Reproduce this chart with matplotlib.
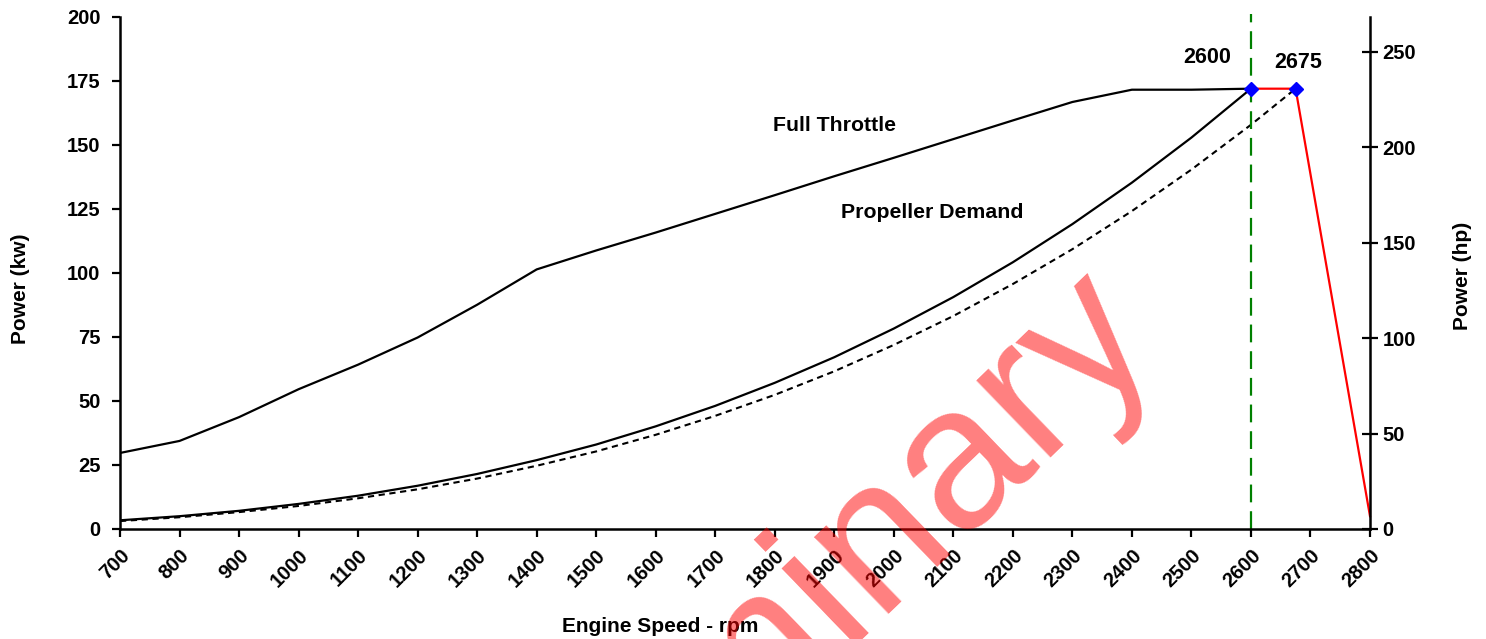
import matplotlib
matplotlib.use("Agg")
import matplotlib.pyplot as plt
import numpy as np

plt.rcParams['font.family'] = ['Liberation Sans', 'DejaVu Sans']
plt.rcParams['font.weight'] = 'bold'

# Data (kW vs rpm)
rpm_full = [700, 800, 900, 1000, 1100, 1200, 1300, 1400, 1500, 1600, 1700, 1800,
            1900, 2000, 2100, 2200, 2300, 2400, 2500, 2600]
kw_full = [29.7, 34.4, 43.7, 54.6, 64.2, 74.8, 87.6, 101.4, 108.8, 115.8, 123.1, 130.4,
           137.8, 145.0, 152.3, 159.6, 166.8, 171.6, 171.6, 172.0]

rpm_prop = [700, 800, 900, 1000, 1100, 1200, 1300, 1400, 1500, 1600, 1700, 1800,
            1900, 2000, 2100, 2200, 2300, 2400, 2500, 2600]
kw_prop = [3.4, 5.0, 7.1, 9.8, 13.0, 16.9, 21.5, 26.9, 33.0, 40.1, 48.1, 57.1,
           67.1, 78.3, 90.6, 104.2, 119.1, 135.3, 152.9, 172.0]

rpm_prop2 = [700, 800, 900, 1000, 1100, 1200, 1300, 1400, 1500, 1600, 1700, 1800,
             1900, 2000, 2100, 2200, 2300, 2400, 2500, 2600, 2675]
kw_prop2 = [3.1, 4.6, 6.6, 9.0, 12.0, 15.5, 19.7, 24.7, 30.3, 36.8, 44.2, 52.4,
            61.6, 71.9, 83.2, 95.7, 109.3, 124.2, 140.4, 157.9, 172.0]

rpm_gov = [2600, 2675, 2800]
kw_gov = [172.0, 172.0, 5.0]

rpm_marks = [2600, 2675]
kw_marks = [172.0, 172.0]
mark_labels = ["2600", "2675"]

rated_rpm = 2600
x_ticks = list(range(700, 2801, 100))
y_ticks_kw = list(range(0, 201, 25))
y_ticks_hp = list(range(0, 251, 50))
KW_TO_HP = 1.341

fig = plt.figure(figsize=(14.86, 6.39), dpi=100)
ax = fig.add_axes([120/1486, 1-529/639, 1250/1486, 512/639])

ax.plot(rpm_full, kw_full, color='black', lw=1.6)
ax.plot(rpm_prop, kw_prop, color='black', lw=1.6)
ax.plot(rpm_prop2, kw_prop2, color='black', lw=1.5, linestyle=(0, (3, 2.2)))
ax.plot(rpm_gov, kw_gov, color='red', lw=1.6, clip_on=False)
ax.axvline(rated_rpm, ymin=0, ymax=1.005, color='green', lw=1.6,
           linestyle=(0, (8, 4)), clip_on=False)
ax.plot(rpm_marks, kw_marks, linestyle='none', marker='D', markersize=7,
        color='blue', markeredgecolor='blue', zorder=5, clip_on=False)

ax.text(2526, 184, mark_labels[0], ha='center', va='center', fontsize=15.5, fontweight='bold')
ax.text(2679, 182.4, mark_labels[1], ha='center', va='center', fontsize=15.5, fontweight='bold')
ax.text(1900, 157.8, "Full Throttle", ha='center', va='center', fontsize=15.3, fontweight='bold')
ax.text(2064, 123.8, "Propeller Demand", ha='center', va='center', fontsize=15.3, fontweight='bold')

ax.set_xlim(700, 2800)
ax.set_ylim(0, 200)
ax.set_xticks(x_ticks)
ax.set_xticklabels([str(v) for v in x_ticks], rotation=45, ha='right',
                   rotation_mode='anchor', fontsize=14.5, fontweight='bold')
ax.set_yticks(y_ticks_kw)
ax.set_yticklabels([str(v) for v in y_ticks_kw], fontsize=14.5, fontweight='bold')
ax.tick_params(axis='both', direction='out', length=6, width=1.6)
ax.tick_params(axis='y', pad=8)
ax.tick_params(axis='x', pad=6)
for s in ['left', 'bottom', 'right']:
    ax.spines[s].set_linewidth(1.8)
ax.spines['top'].set_visible(False)
ax.spines['right'].set_visible(False)

ax2 = ax.twinx()
ax2.set_ylim(0, 200 * KW_TO_HP)
ax2.set_yticks(y_ticks_hp)
ax2.set_yticklabels([str(v) for v in y_ticks_hp], fontsize=14.5, fontweight='bold')
ax2.tick_params(axis='y', direction='inout', length=12, width=1.6, pad=3)
ax2.spines['right'].set_linewidth(1.8)
ax2.spines['top'].set_visible(False)
ax2.spines['left'].set_visible(False)
ax2.spines['bottom'].set_visible(False)

fig.text(21/1486, 1-289/639, "Power (kw)", rotation=90, ha='center', va='center',
         fontsize=15, fontweight='bold')
fig.text(1462/1486, 1-276/639, "Power (hp)", rotation=90, ha='center', va='center',
         fontsize=15, fontweight='bold')
fig.text(660/1486, 1-626/639, "Engine Speed - rpm", ha='center', va='center',
         fontsize=15, fontweight='bold')

# watermark
fig.text(429/1486, 1-1042/639, "Preliminary", rotation=44, rotation_mode='anchor',
         ha='left', va='baseline', fontsize=146, fontweight='normal',
         color='red', alpha=0.5, zorder=10)

fig.savefig("out.png", dpi=100)
